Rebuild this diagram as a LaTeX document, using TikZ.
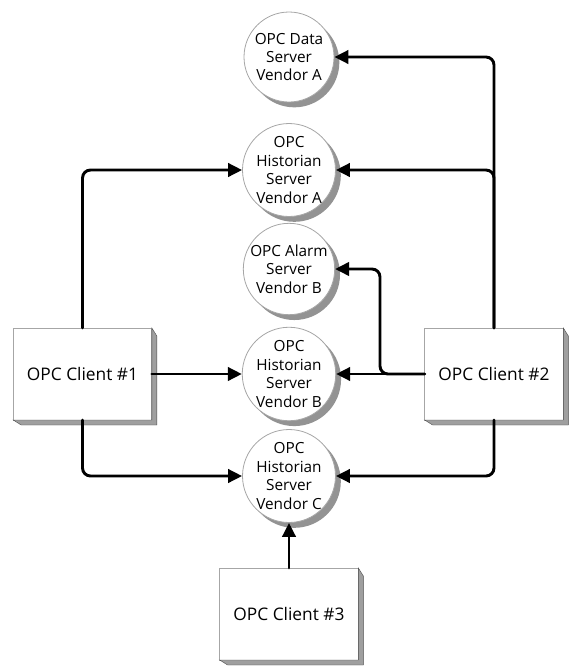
\documentclass[tikz,border=0pt]{standalone}
\usepackage{fontspec}
\setmainfont{Open Sans}
\usetikzlibrary{arrows.meta,shadows,calc}
\begin{document}
\begin{tikzpicture}[x=0.75pt,y=-0.75pt,
  server/.style={circle, draw=gray!70, line width=0.6pt, fill=white,
    minimum size=67.5pt, inner sep=0pt, align=center,
    font=\fontsize{11.5}{13.8}\selectfont,
    drop shadow={shadow xshift=4pt, shadow yshift=-4pt, fill=gray!85, opacity=1}},
  client/.style={rectangle, draw=gray!70, line width=0.6pt, fill=white,
    minimum width=104pt, minimum height=69pt, outer sep=0pt, inner sep=0pt,
    font=\fontsize{13}{15}\selectfont},
  side/.style={fill=gray!75, draw=gray!60!black, line width=0.3pt},
  conn/.style={line width=2.2pt, rounded corners=6pt, line cap=round,
    -{Triangle[length=10.5pt,width=10pt]}}
]
\useasboundingbox (0,0) rectangle (584,672);

% servers
\node[server] (dA) at (289,57)  {OPC Data\\Server\\Vendor A};
\node[server] (hA) at (289,170) {OPC\\Historian\\Server\\Vendor A};
\node[server] (aB) at (289,269) {OPC Alarm\\Server\\Vendor B};
\node[server] (hB) at (289,374) {OPC\\Historian\\Server\\Vendor B};
\node[server] (hC) at (289,476) {OPC\\Historian\\Server\\Vendor C};

% clients
\node[client] (c1) at (82.5,374) {OPC Client \#1};
\node[client] (c2) at (494,374) {OPC Client \#2};
\node[client] (c3) at (289,614) {OPC Client \#3};

\foreach \c in {c1,c2,c3}{
  \fill[side] (\c.north east) -- ($(\c.north east)+(5,8)$) -- ($(\c.south east)+(5,5)$)
     -- ($(\c.south west)+(8,5)$) -- (\c.south west) -- (\c.south east) -- cycle;
}

\coordinate (k) at (380,374);

% connectors
\draw[conn] (c1.north) |- (hA.west);
\draw[conn] (c1.east) -- (hB.west);
\draw[conn] (c1.south) |- (hC.west);
\draw[conn] (c2.north) |- (dA.east);
\draw[conn] (c2.north) |- (hA.east);
\draw[conn] (c2.west) -- (hB.east);
\draw[conn] (c2.west) -- (k) |- (aB.east);
\draw[conn] (c2.south) |- (hC.east);
\draw[conn] (c3.north) -- (hC.south);
\end{tikzpicture}
\end{document}
